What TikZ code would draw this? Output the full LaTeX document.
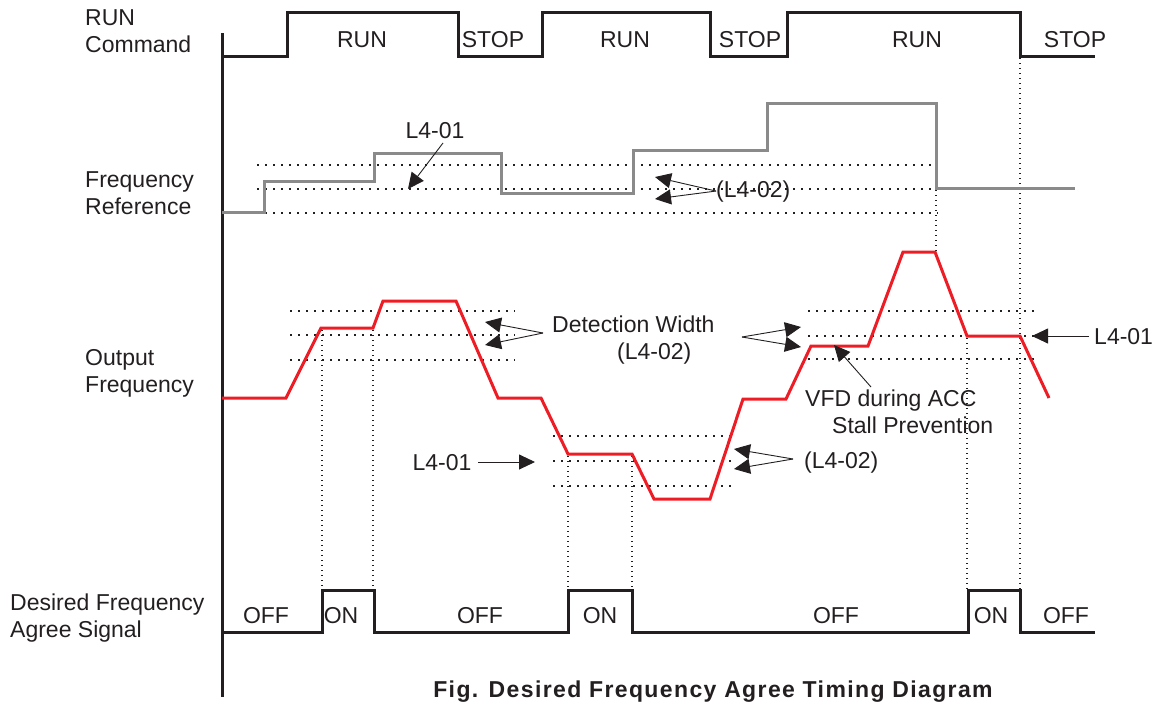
\documentclass[tikz,border=0pt]{standalone}
\usepackage{fontspec}
\setmainfont{Liberation Sans}
\newfontfamily\titlefont[LetterSpace=6]{Liberation Sans}
\usetikzlibrary{arrows.meta}
\definecolor{ink}{HTML}{231F20}
\definecolor{sigred}{HTML}{EE1D25}
\definecolor{refgray}{HTML}{8A8A8A}
\tikzset{
  lbl/.style={font=\fontsize{23}{27}\selectfont, text=ink, inner sep=0pt},
  sig/.style={line width=3pt, draw=ink},
  refwave/.style={line width=3pt, draw=refgray},
  outwave/.style={line width=3pt, draw=sigred},
  hdot/.style={draw=ink, line width=1.3pt, dash pattern=on 1.6pt off 6.4pt},
  vdot/.style={draw=ink, line width=1.2pt, dash pattern=on 1.2pt off 3.8pt},
  ann/.style={draw=ink, line width=0.9pt, -{Triangle[length=16pt,width=15pt]}},
}
\begin{document}
\begin{tikzpicture}[x=1pt,y=-1pt]
\useasboundingbox (0,0) rectangle (1155,704);

% ---------- left labels (anchor = baseline of last line) ----------
\node[lbl, anchor=base west, align=left] (runlbl) at (85,52) {RUN\\Command};
\node[lbl, anchor=base west, align=left] (reflbl) at (85,214) {Frequency\\Reference};
\node[lbl, anchor=base west, align=left] (outlbl) at (85,392) {Output\\Frequency};
\node[lbl, anchor=base west, align=left] (agrlbl) at (10,637) {Desired Frequency\\Agree Signal};

% ---------- axis ----------
\draw[sig] (222,33) -- (222,697);

% ---------- dotted guide lines ----------
\draw[hdot] (257,165) -- (938,165);
\draw[hdot] (257,189) -- (938,189);
\draw[hdot] (257,213) -- (938,213);
\draw[hdot] (290,311) -- (515,311);
\draw[hdot] (290,335) -- (515,335);
\draw[hdot] (290,360) -- (515,360);
\draw[hdot] (553,436) -- (735,436);
\draw[hdot] (553,461) -- (735,461);
\draw[hdot] (553,486) -- (735,486);
\draw[hdot] (808,311) -- (1034,311);
\draw[hdot] (808,336) -- (1034,336);
\draw[hdot] (808,359) -- (1034,359);

\draw[vdot] (322,330) -- (322,590);
\draw[vdot] (373,330) -- (373,590);
\draw[vdot] (568,456) -- (568,590);
\draw[vdot] (632,456) -- (632,590);
\draw[vdot] (967,338) -- (967,590);
\draw[vdot] (1020,58) -- (1020,590);
\draw[vdot] (936,190) -- (936,252);

% ---------- RUN command ----------
\draw[sig] (222,56) -- (287,56) -- (287,12) -- (458,12) -- (458,56) -- (542,56)
  -- (542,12) -- (710,12) -- (710,56) -- (787,56) -- (787,12) -- (1020,12)
  -- (1020,56) -- (1095,56);
\node[lbl, anchor=base] (run1) at (362,47) {RUN};
\node[lbl, anchor=base] (stop1) at (493,47) {STOP};
\node[lbl, anchor=base] (run2) at (625,47) {RUN};
\node[lbl, anchor=base] (stop2) at (750,47) {STOP};
\node[lbl, anchor=base] (run3) at (917,47) {RUN};
\node[lbl, anchor=base] (stop3) at (1075,47) {STOP};

% ---------- frequency reference ----------
\draw[refwave] (222,212) -- (264,212) -- (264,181) -- (374,181) -- (374,153)
  -- (501,153) -- (501,193) -- (633,193) -- (633,150) -- (767,150) -- (767,103)
  -- (936,103) -- (936,188) -- (1075,188);

% ---------- output frequency ----------
\draw[outwave] (222,398) -- (286,398) -- (321,328) -- (373,328) -- (383,301)
  -- (456,301) -- (498,398) -- (541,398) -- (568,454) -- (632,454) -- (654,499)
  -- (710,499) -- (743,399) -- (786,399) -- (811,346) -- (868,346) -- (903,252)
  -- (935,252) -- (967,336) -- (1020,336) -- (1049,398);

% ---------- agree signal ----------
\draw[sig] (222,632) -- (322,632) -- (322,590) -- (374,590) -- (374,632)
  -- (568,632) -- (568,590) -- (632,590) -- (632,632) -- (968,632) -- (968,590)
  -- (1020,590) -- (1020,632) -- (1095,632);
\node[lbl, anchor=base] (off1) at (266,623) {OFF};
\node[lbl, anchor=base] (on1) at (341,623) {ON};
\node[lbl, anchor=base] (off2) at (480,623) {OFF};
\node[lbl, anchor=base] (on2) at (600,623) {ON};
\node[lbl, anchor=base] (off3) at (836,623) {OFF};
\node[lbl, anchor=base] (on3) at (991,623) {ON};
\node[lbl, anchor=base] (off4) at (1066,623) {OFF};

% ---------- annotations ----------
\node[lbl, anchor=base] (refl401) at (435,138) {L4-01};
\coordinate (refl401s) at (443,143);
\coordinate (refl401t) at (408,189);
\draw[ann] (refl401s) -- (refl401t);

\node[lbl, anchor=base west] (refl402) at (716,197) {(L4-02)};
\coordinate (refl402a) at (655,177);
\coordinate (refl402b) at (655,199);
\draw[ann] (refl402.west) -- (refl402a);
\draw[ann] (refl402.west) -- (refl402b);

\node[lbl, anchor=base west, align=left] (detw) at (552,359) {Detection Width\\\hspace*{65pt}(L4-02)};
\coordinate (detl) at (543,333);
\coordinate (detla) at (485,322);
\coordinate (detlb) at (485,345);
\draw[ann] (detl) -- (detla);
\draw[ann] (detl) -- (detlb);
\coordinate (detr) at (742,337);
\coordinate (detra) at (801,327);
\coordinate (detrb) at (801,347);
\draw[ann] (detr) -- (detra);
\draw[ann] (detr) -- (detrb);

\node[lbl, anchor=base] (midl401) at (442,470) {L4-01};
\coordinate (midl401s) at (478,462);
\coordinate (midl401t) at (535,462);
\draw[ann] (midl401s) -- (midl401t);

\node[lbl, anchor=base west] (lowl402) at (804,468) {(L4-02)};
\coordinate (lowl402s) at (793,459);
\coordinate (lowl402a) at (734,449);
\coordinate (lowl402b) at (734,469);
\draw[ann] (lowl402s) -- (lowl402a);
\draw[ann] (lowl402s) -- (lowl402b);

\node[lbl, anchor=base west] (rl401) at (1094,344) {L4-01};
\coordinate (rl401s) at (1089,336);
\coordinate (rl401t) at (1032,336);
\draw[ann] (rl401s) -- (rl401t);

\node[lbl, anchor=base west, align=left] (vfd) at (805,433) {VFD during ACC\\\hspace*{27pt}Stall Prevention};
\coordinate (vfds) at (871,387);
\coordinate (vfdt) at (834,345);
\draw[ann] (vfds) -- (vfdt);

% ---------- title ----------
\node[anchor=base, inner sep=0pt, text=ink, font={\titlefont\bfseries\fontsize{23}{27}\selectfont}] (title) at (713,697) {Fig. Desired Frequency Agree Timing Diagram};
\end{tikzpicture}
\end{document}
